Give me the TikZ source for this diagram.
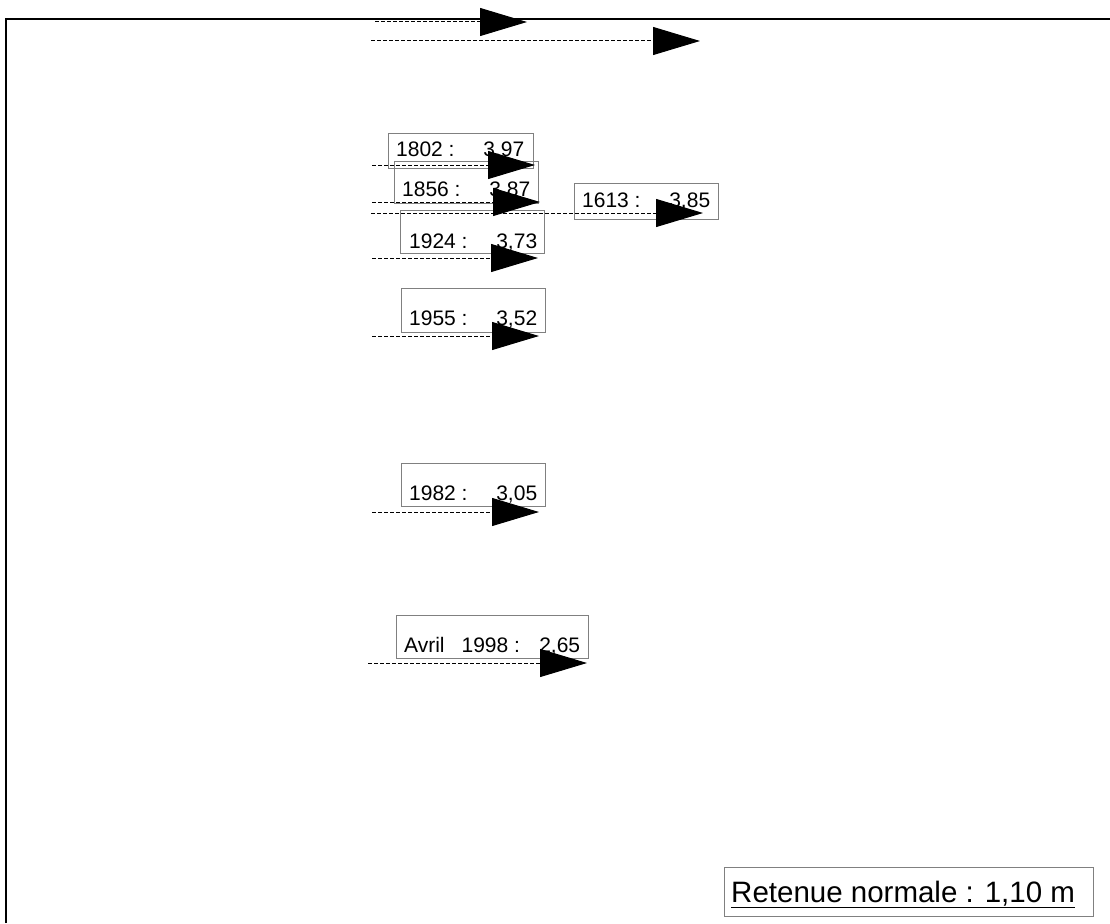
\documentclass[tikz,border=0pt]{standalone}
\usepackage{fontspec}
\setmainfont{Liberation Sans}
\usetikzlibrary{arrows.meta}
\definecolor{boxgray}{RGB}{128,128,128}
\begin{document}
\begin{tikzpicture}[x=1pt,y=-1pt,
  frame/.style={draw=black,line width=1.5pt},
  lvl/.style={draw=black,line width=1pt,dash pattern=on 4pt off 2pt,
    -{Triangle[length=47pt,width=28pt]}},
  box/.style={draw=boxgray,line width=1pt,inner sep=0pt,anchor=north west},
  lbl/.style={font=\fontsize{21}{25}\selectfont,inner sep=0pt,anchor=base west},
  big/.style={font=\fontsize{29.5}{34}\selectfont,inner sep=0pt,anchor=base west}]
\useasboundingbox (0,0) rectangle (1110,923);
\draw[frame] (6,923) -- (6,19) -- (1110,19);

% boxes
\node[box,minimum width=145pt,minimum height=35pt] (b1802) at (388,133) {};
\node[box,minimum width=144pt,minimum height=42pt] (b1856) at (394,161) {};
\node[box,minimum width=144pt,minimum height=36pt] (b1613) at (574,183) {};
\node[box,minimum width=144pt,minimum height=43pt] (b1924) at (400,210) {};
\node[box,minimum width=144pt,minimum height=44pt] (b1955) at (401,288) {};
\node[box,minimum width=144pt,minimum height=43pt] (b1982) at (401,463) {};
\node[box,minimum width=192pt,minimum height=43pt] (bAvril) at (396,615) {};
\node[box,minimum width=369pt,minimum height=49pt] (bRet) at (724,867) {};

% labels
\node[lbl] (t1802) at (396,157) {\makebox[128pt][l]{1802 :\hfill 3,97}};
\node[lbl] (t1856) at (402,196) {\makebox[128pt][l]{1856 :\hfill 3,87}};
\node[lbl] (t1613) at (582,207) {\makebox[128pt][l]{1613 :\hfill 3,85}};
\node[lbl] (t1924) at (409,248) {\makebox[128pt][l]{1924 :\hfill 3,73}};
\node[lbl] (t1955) at (409,325) {\makebox[128pt][l]{1955 :\hfill 3,52}};
\node[lbl] (t1982) at (409,500) {\makebox[128pt][l]{1982 :\hfill 3,05}};
\node[lbl] (tAvril) at (404,652) {\makebox[176pt][l]{Avril\hspace{17pt}1998 :\hfill 2,65}};
\node[big] (tRet) at (731,902) {\underline{Retenue normale : 1,10 m}};

% level arrows
\coordinate (s1) at (375,22);   \coordinate (e1) at (527,22);
\coordinate (s2) at (371,41);   \coordinate (e2) at (700,41);
\coordinate (s1802) at (372,165);  \coordinate (e1802) at (535,165);
\coordinate (s1856) at (372,202);  \coordinate (e1856) at (540,202);
\coordinate (s1613) at (371,213);  \coordinate (e1613) at (703,213);
\coordinate (s1924) at (372,258);  \coordinate (e1924) at (538,258);
\coordinate (s1955) at (372,336);  \coordinate (e1955) at (539,336);
\coordinate (s1982) at (372,512);  \coordinate (e1982) at (539,512);
\coordinate (sAvril) at (368,663); \coordinate (eAvril) at (587,663);
\foreach \n in {1,2,1802,1856,1613,1924,1955,1982,Avril}
  \draw[lvl] (s\n) -- (e\n);
\end{tikzpicture}
\end{document}
